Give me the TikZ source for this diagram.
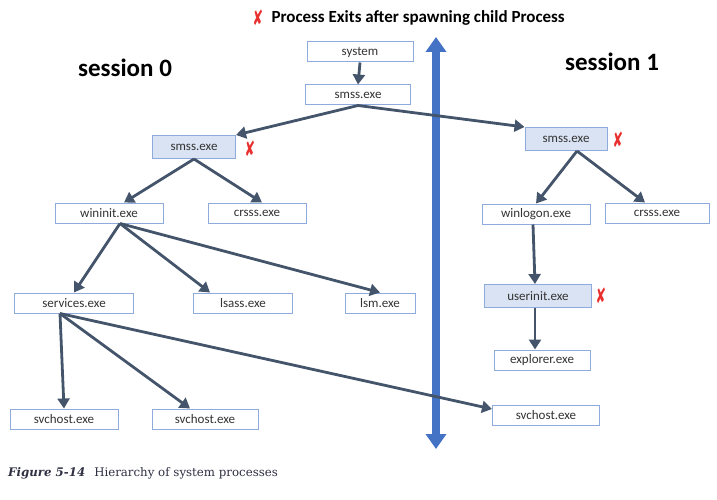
\documentclass[tikz,border=0pt]{standalone}
\usepackage{fontspec}
\setmainfont{Carlito}
\newfontfamily\capfont{DejaVu Serif}
\newfontfamily\markfont{DejaVu Sans}
\usetikzlibrary{arrows.meta}

\definecolor{boxline}{HTML}{8FAADC}
\definecolor{boxfill}{HTML}{DAE3F3}
\definecolor{linkcol}{HTML}{44546A}
\definecolor{barcol}{HTML}{4472C4}
\definecolor{markred}{HTML}{E8312F}
\definecolor{captext}{HTML}{2F3042}

\newcommand{\exitx}{\scalebox{0.9}[1.5]{✘}}

\tikzset{
  proc/.style={draw=boxline, line width=1pt, fill=white, minimum height=20pt,
    inner sep=0pt, font=\fontsize{13}{15}\selectfont, text=black!80},
  procx/.style={proc, fill=boxfill, minimum height=23pt},
  link/.style={draw=linkcol, line width=2.8pt, -{Triangle[length=10pt,width=12pt]}},
  exitmark/.style={text=markred, inner sep=0pt, font=\markfont\fontsize{14}{14}\selectfont},
}

\begin{document}
\begin{tikzpicture}[x=1pt,y=-1pt]

\useasboundingbox (0,0) rectangle (717,500);

% ======================================
% TITLE AND SESSION LABELS
% ======================================
\node[exitmark] (tmark) at (258,18) {\exitx};
\node[anchor=west, font=\bfseries\fontsize{17}{19}\selectfont] (title) at (268,18) {Process Exits after spawning child Process};
\node[font=\bfseries\fontsize{25}{27}\selectfont] (sess0) at (125,68) {session 0};
\node[font=\bfseries\fontsize{25}{27}\selectfont] (sess1) at (612,62) {session 1};

% ======================================
% THE SESSION DIVIDER
% ======================================
\coordinate (bartop) at (436,37);
\coordinate (barbot) at (436,449);
\draw[barcol, line width=8pt, {Triangle[length=15pt,width=20pt]}-{Triangle[length=15pt,width=20pt]}] (bartop) -- (barbot);

% ======================================
% ROOT: SYSTEM AND MASTER SMSS
% ======================================
\node[proc, minimum width=106pt] (sys) at (360,52) {system};
\node[proc, minimum width=105pt] (smss) at (358,95) {smss.exe};
\draw[link] (sys.south) -- (smss.north);

% ======================================
% SESSION 0
% ======================================
\node[procx, minimum width=83pt] (smssa) at (194,147) {smss.exe};
\node[exitmark] (marka) at (250,149) {\exitx};
\draw[link] (smss.south) -- (smssa.north east);

\node[proc, minimum width=108pt] (wininit) at (109,213) {wininit.exe};
\node[proc, minimum width=98pt] (crsssa) at (257,213) {crsss.exe};
\draw[link] (smssa.south) -- ([xshift=15pt]wininit.north);
\draw[link] (smssa.south) -- ([xshift=5pt]crsssa.north);

\node[proc, minimum width=119pt] (services) at (74,303) {services.exe};
\node[proc, minimum width=99pt] (lsass) at (243,303) {lsass.exe};
\node[proc, minimum width=70pt] (lsm) at (380,303) {lsm.exe};
\draw[link] ([xshift=11pt]wininit.south) -- (services.north);
\draw[link] ([xshift=11pt]wininit.south) -- ([xshift=-33pt]lsass.north);
\draw[link] ([xshift=11pt]wininit.south) -- (lsm.north);

\node[proc, minimum width=108pt] (svca) at (64,419) {svchost.exe};
\node[proc, minimum width=106pt] (svcb) at (205,419) {svchost.exe};
\node[proc, minimum width=107pt] (svcc) at (546,415) {svchost.exe};
\draw[link] ([xshift=-14pt]services.south) -- (svca.north);
\draw[link] ([xshift=-14pt]services.south) -- ([xshift=-15pt]svcb.north);
\draw[link] ([xshift=-14pt]services.south) -- ([yshift=6pt]svcc.west);

% ======================================
% SESSION 1
% ======================================
\node[procx, minimum width=82pt] (smssb) at (566,139) {smss.exe};
\node[exitmark] (markb) at (618,140) {\exitx};
\draw[link] (smss.south) -- (smssb.north west);

\node[proc, minimum width=108pt] (winlogon) at (536,214) {winlogon.exe};
\node[proc, minimum width=104pt] (crsssb) at (657,213) {crsss.exe};
\draw[link] ([xshift=11pt]smssb.south) -- (winlogon.north);
\draw[link] ([xshift=11pt]smssb.south) -- ([xshift=-12pt]crsssb.north);

\node[procx, minimum width=107pt] (userinit) at (538,296) {userinit.exe};
\node[exitmark] (markc) at (601,296) {\exitx};
\draw[link] ([xshift=-3pt]winlogon.south) -- ([xshift=-3pt]userinit.north);

\node[proc, minimum width=96pt] (explorer) at (542,360) {explorer.exe};
\draw[link] ([xshift=-3pt]userinit.south) -- ([xshift=-7pt]explorer.north);

% ======================================
% CAPTION
% ======================================
\node[anchor=west, text=captext, inner sep=0pt] (caption) at (8,473)
  {\capfont\fontsize{11.8}{14}\selectfont{\bfseries\itshape Figure 5-14}\hspace{9pt}Hierarchy of system processes};

\end{tikzpicture}
\end{document}
